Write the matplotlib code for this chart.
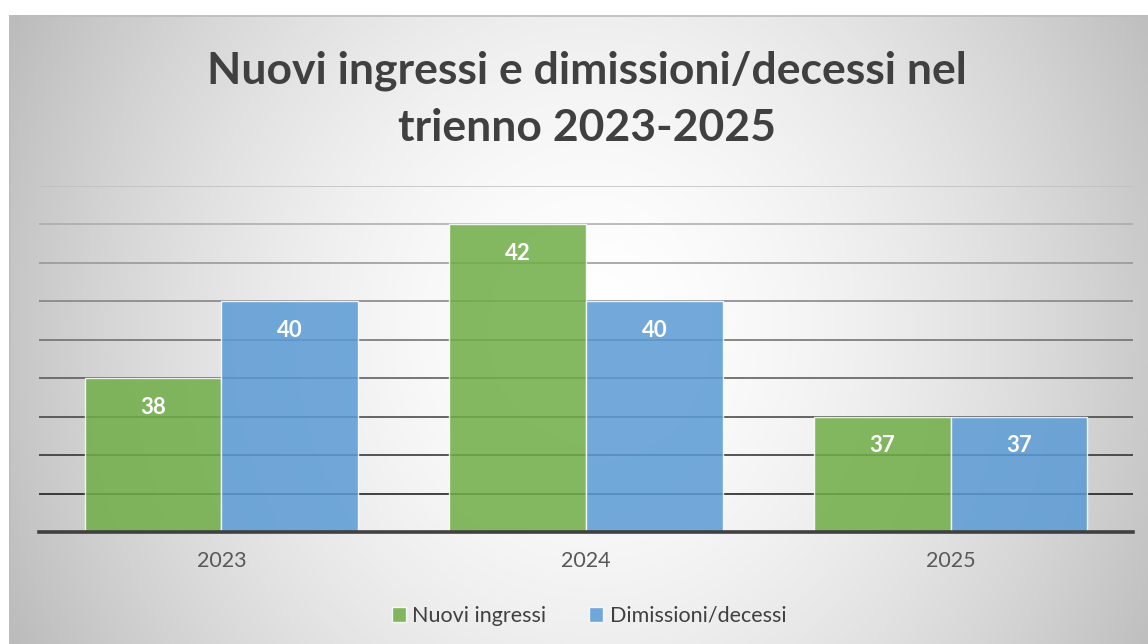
import matplotlib.pyplot as plt
import numpy as np
from matplotlib.patches import Rectangle

# data
years = ["2023", "2024", "2025"]
nuovi_ingressi = [38, 42, 37]
dimissioni_decessi = [40, 40, 37]
series_names = ["Nuovi ingressi", "Dimissioni/decessi"]

W, H = 1148, 644
plt.rcParams['font.family'] = ['Lato', 'DejaVu Sans']

fig = plt.figure(figsize=(W / 100, H / 100), dpi=100)
fig.patch.set_facecolor("white")

# background: elliptic gradient, white in the middle, gray at the edges
bg = fig.add_axes([0, 0, 1, 1], zorder=-10)
yy, xx = np.mgrid[0:H, 0:W]
d = np.sqrt(((xx - 590) / 600.0) ** 2 + ((yy - 330) / 660.0) ** 2)
shade = 255 - 60 * np.clip(d, 0, 1.1) ** 1.7
shade[(xx < 9) | (yy < 15)] = 255
img = np.dstack([shade, shade, shade]).astype(np.uint8)
bg.imshow(img, extent=(0, W, H, 0), aspect="auto", interpolation="bilinear")
bg.add_patch(Rectangle((9.5, 15.5), W + 20, H + 20, fill=False,
                       edgecolor="#bdbdbd", linewidth=1.2))
bg.set_xlim(0, W)
bg.set_ylim(H, 0)
bg.axis("off")

ax = fig.add_axes([39 / W, 112 / H, (1133 - 39) / W, (532 - 186) / H])
ax.set_facecolor("none")

x = np.arange(len(years))
width = 0.375
ymin, ymax = 34, 43

# gridlines fading from light gray at the top to black at the bottom
levels = np.arange(ymin + 1, ymax + 1)
for lv in levels:
    t = (lv - levels[0]) / (levels[-1] - levels[0])
    g = 0.07 + t * 0.68
    ax.axhline(lv, color=(g, g, g), linewidth=1.1, zorder=0)

b1 = ax.bar(x - width / 2, nuovi_ingressi, width, color="#70ad47",
            alpha=0.86, edgecolor="white", linewidth=1, label=series_names[0], zorder=2)
b2 = ax.bar(x + width / 2, dimissioni_decessi, width, color="#5b9bd5",
            alpha=0.86, edgecolor="white", linewidth=1, label=series_names[1], zorder=2)

for bars, vals in ((b1, nuovi_ingressi), (b2, dimissioni_decessi)):
    for rect, v in zip(bars, vals):
        ax.annotate(str(v), (rect.get_x() + rect.get_width() / 2, v),
                    xytext=(0, -21), textcoords="offset points",
                    ha="center", va="center", color="white",
                    fontsize=16, fontweight="bold", zorder=3)

ax.set_xlim(-0.5, len(years) - 0.5)
ax.set_ylim(ymin, ymax)
ax.set_xticks(x)
ax.set_xticklabels(years, fontsize=15.5, color="#595959")
ax.tick_params(axis="x", length=0, pad=14)
ax.set_yticks([])
for s in ("top", "right", "left"):
    ax.spines[s].set_visible(False)
ax.spines["bottom"].set_color("#404040")
ax.spines["bottom"].set_linewidth(2.6)
ax.spines["bottom"].set_zorder(4)

fig.text(587 / W, 1 - 99 / H, "Nuovi ingressi e dimissioni/decessi nel\ntrienno 2023-2025",
         ha="center", va="center", fontsize=32, fontweight="bold",
         color="#404040", linespacing=1.52)

fig.legend(handles=[b1, b2], loc="center", bbox_to_anchor=(589 / W, 1 - 616 / H),
           ncol=2, frameon=False, fontsize=15.5, handlelength=0.65, handleheight=0.65,
           handletextpad=0.3, columnspacing=2.0, labelcolor="#404040")

fig.savefig("out.png", dpi=100)
